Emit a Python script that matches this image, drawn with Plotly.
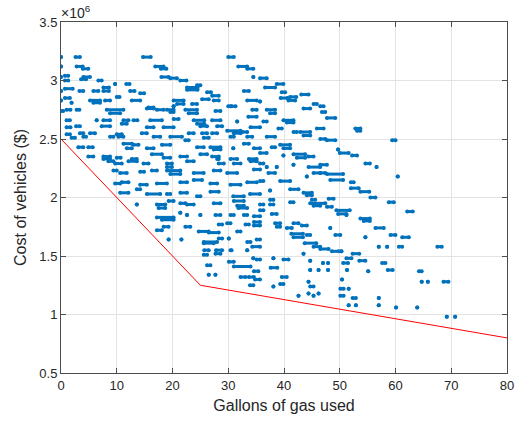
import plotly.graph_objects as go

# Feasible vehicle fleets: each record is a run of points at one cost level,
# from gallons_start to gallons_end (equal when it is a single point).
gallons_start = [
    0, 2.6, 14.7, 30, 0, 2.8, 3.9, 16.9, 17.9, 31.8, 33.4,
    0, 0.7, 0.7, 4, 3.6, 6.7, 18, 19.6, 21.4, 34.5,
    0, 0.7, 3.3, 5.8, 7.6, 7.6, 9.7, 11.7, 12.4, 14.2, 22.6, 22.6, 24.4, 26.2, 27.1, 32.8,
    0, 0.7, 1.9, 5.2, 5.8, 7.9, 10, 12.7, 15.7, 17.2, 20.2, 20.8, 23.5, 25.3, 27.4, 30.4, 33.4,
    0, 1, 2.8, 8.2, 8.8, 15.4, 19, 19.6, 20.2, 22.3, 22.9, 27.7, 30, 34.3,
    1, 6.4, 7.6, 11.2, 13, 16, 20.2, 23.8, 24.4, 27.1, 31.6, 33.6,
    1, 2.7, 7.3, 10.9, 15.4, 18.4, 25, 28, 29.8, 34,
    1, 3.4, 5.2, 10, 14.5, 19.6, 22.9, 25.3, 27.1, 31, 32.5,
    1.9, 4, 8.8, 10.3, 16.6, 22.3, 25.6, 30.4, 33.4,
    3.1, 4.9, 11.2, 11.8, 13, 15.4, 18.1, 24.4, 26.8, 27.4, 30.9, 32.8, 34.6,
    4.9, 7.6, 7.6, 10, 12.7, 16.3, 18.4, 21.4, 25, 27.1, 28, 30.4, 33.7,
    8.5, 9.7, 12.1, 14.8, 19, 19, 22.6, 28.3, 31, 34,
    9.4, 10.6, 14.2, 16.3, 19, 19.6, 23.8, 27.4, 29.8, 34.6,
    9.7, 10.9, 14.2, 17.2, 21.4, 23.8, 26.8, 30.4, 33.4,
    10.6, 13.6, 15.4, 19, 21.4, 24.4, 26.8, 30.9, 33.9,
    35.7, 36.6, 38.7, 39.6, 41.1, 40.8, 43.1, 39.4, 35.7, 43.5, 45.3, 46.5, 36.9, 37.5,
    46.8, 47.7, 39.9, 40.5, 36.3, 39, 41.7, 42.9, 43.5, 45.9, 46.5, 47.7, 36.9, 52.8,
    53.1, 59.4, 37.8, 39.3, 39.9, 35.7, 41.7, 42.3, 39.9, 44.4, 50, 52.2, 49.7, 35.7,
    36.9, 38.7, 41.7, 44.4, 46.5, 54.6, 56.6, 37.2, 45.3, 46.5, 47.7, 48.3, 44.1, 60.4,
    35.7, 39.3, 52, 52, 53.7, 41.1, 43.5, 44.1, 37.5, 45, 37.5, 55.5, 48,
    13.6, 17.2, 17.5, 19.3, 21.4, 22.6, 27.4, 31, 31.6, 31.8, 17.2, 18.1, 21.4, 22.6,
    25, 27.7, 30.4, 32.8, 34.6, 17.2, 18.4, 22.3, 24.7, 26.5, 28.3, 29.8, 31.6, 33.1,
    34.6, 34.6, 19.3, 21.6, 25.6, 25.6, 28.3, 30.1, 33.4, 35.1, 25.7, 27.8, 30.4, 33.4,
    34.3, 25.6, 27.7, 30.1, 31, 26.2, 34.5, 35.1, 26.5, 27.7, 32.2, 33.7, 34.6, 33.9, 34.8,
    35.7, 37.5, 41.1, 44.7, 45.3, 47.7, 49.4, 49.7, 51.2, 53.7, 54.3, 58.8, 62.1, 35.7,
    37.8, 38.4, 38.7, 40.5, 41.7, 43.2, 41.3, 41.7, 44.1, 48.3, 49.2, 43.7, 45.3, 46.5,
    48.6, 56.4, 59.1, 61.2, 54.6, 57, 58.5, 60.6, 67.5, 50.3, 51.2, 52.3, 53.5, 38.1,
    39.9, 43.5, 44.7, 47, 47.9, 50.6, 57.6, 37.6, 44.7, 46.2, 47.9, 51.3, 55.1, 58.6,
    64.2, 39.6, 44.4, 50.4, 51.6, 38.1, 39.3, 44.7, 50.1, 64.7, 65.8, 68.6, 42.6, 44.4,
    45.3, 46.2, 50.1, 52.3, 57, 51.6, 52.9, 57, 60.1, 63.9, 69.2, 70.7,
]
gallons_end = [
    0, 3.4, 16.1, 31, 0, 3.9, 4.9, 18.4, 18.9, 33.4, 34.5,
    0, 1.3, 1.3, 5.2, 4.5, 7.3, 19.3, 20.8, 22.5, 34.5,
    0, 2.1, 4, 6.7, 8.6, 8.6, 9.7, 12.3, 13.2, 14.9, 24.5, 24.5, 25, 26.9, 28.3, 33.7,
    0, 1.6, 1.9, 7, 7, 8.8, 10.5, 14.2, 16.6, 18.4, 22, 22, 24.4, 26.5, 28.3, 31.3, 35.1,
    0.4, 1.7, 3.3, 11.2, 10.6, 16.6, 20.2, 20.2, 20.2, 24.4, 24.4, 28.6, 30.6, 35.1,
    1.6, 6.4, 8.8, 12.1, 13.7, 18.1, 21.1, 25.7, 25.7, 28.6, 31.6, 35.1,
    1.7, 3.4, 8.8, 11.8, 16.6, 20.2, 26.2, 28.9, 32.2, 35.7,
    1.6, 4, 6.1, 10.9, 15.4, 21.7, 23.8, 26.2, 28, 32.2, 33.4,
    2.5, 4.5, 9.4, 11.2, 17.8, 22.9, 26.5, 31, 34.3,
    4, 5.7, 12.7, 12.7, 13.9, 16.6, 19.6, 25.6, 28.6, 28.6, 30.9, 33.7, 35.7,
    5.8, 8.8, 8.8, 10.7, 13.6, 18.1, 19.6, 22.6, 26.2, 28.3, 28.3, 31.6, 35.1,
    9.4, 10.9, 13.6, 15.7, 19.9, 19.9, 23.8, 29.2, 32.2, 35.1,
    10, 11.8, 14.9, 17.2, 21.4, 21.4, 25.6, 28.6, 31.6, 35.7,
    10.6, 12.1, 15.4, 19, 22.6, 25.3, 28, 32.2, 35.1,
    12.1, 14.2, 17.8, 19.6, 22.6, 25, 28.3, 32.8, 35.7,
    36.9, 38.4, 39.9, 40.2, 42.2, 42, 44.4, 40.6, 35.7, 44.7, 45.9, 47.1, 38.4, 38.4,
    47.4, 49.2, 41.7, 41.7, 36.9, 39.6, 42.3, 44.7, 44.7, 47.1, 47.4, 49.2, 38.4, 53.7,
    53.7, 60, 38.4, 41.1, 41.1, 36.9, 43.8, 43.8, 39.9, 45.3, 51.6, 53.1, 49.7, 36.3,
    36.9, 38.7, 41.7, 46.5, 47.7, 55.4, 56.6, 38.4, 46.5, 47.4, 50.6, 50.6, 44.1, 60.4,
    36.3, 41.1, 52.5, 53.4, 55.3, 42.6, 45, 45, 37.5, 45.6, 38.1, 56.4, 48.9,
    13.6, 18.7, 18.7, 20.2, 22.3, 23.8, 28.6, 32.8, 32.8, 33.4, 20.2, 20.2, 21.4, 22.6,
    25, 28.6, 31, 33.4, 35.7, 18.1, 19.3, 23.2, 26.5, 28.3, 28.9, 30.4, 32.2, 33.7,
    35.7, 35.7, 19.3, 21.6, 28, 27.4, 28.9, 30.1, 34, 35.7, 26.5, 28.9, 30.6, 33.4,
    35.7, 26.2, 28.6, 31, 34, 26.8, 34.5, 35.7, 26.5, 27.7, 33.1, 34.6, 35.4, 34.5, 35.7,
    36.3, 38.1, 41.7, 47.4, 46.5, 48.6, 51.8, 51.2, 51.2, 55.4, 55.4, 59.7, 63.1, 36.3,
    38.7, 39.3, 39.3, 41.4, 42.6, 44.1, 43.4, 43.4, 44.7, 48.3, 50.1, 45.8, 46.5, 48,
    49.8, 57.9, 60, 62.4, 54.6, 57, 58.5, 61.2, 68.3, 50.3, 52.1, 53.5, 54.6, 38.1,
    40.8, 43.5, 44.7, 47, 47.9, 51.5, 58.2, 38.8, 44.7, 46.2, 47.9, 51.3, 55.1, 59.5,
    64.7, 40.5, 44.4, 50.4, 51.6, 38.1, 39.9, 45.3, 50.7, 64.7, 65.8, 69.5, 42.6, 44.4,
    45.3, 46.2, 50.7, 52.9, 57, 51.6, 52.9, 57, 60.1, 63.9, 69.2, 70.7,
]
cost_millions = [
    3.2, 3.2, 3.2, 3.2, 3.12, 3.12, 3.1, 3.12, 3.1, 3.12, 3.1,
    3.03, 3.04, 3.0, 3.03, 3.01, 3.0, 3.03, 3.02, 3.0, 3.03,
    2.91, 2.93, 2.91, 2.91, 2.94, 2.91, 2.97, 2.97, 2.91, 2.89, 2.94, 2.92, 2.96, 2.9, 2.87, 2.91,
    2.83, 2.85, 2.81, 2.83, 2.81, 2.83, 2.86, 2.83, 2.77, 2.75, 2.83, 2.8, 2.8, 2.84, 2.83, 2.78, 2.83,
    2.74, 2.75, 2.75, 2.75, 2.72, 2.76, 2.75, 2.73, 2.78, 2.75, 2.72, 2.74, 2.78, 2.75,
    2.66, 2.66, 2.66, 2.66, 2.66, 2.66, 2.67, 2.66, 2.63, 2.66, 2.65, 2.69,
    2.6, 2.61, 2.61, 2.63, 2.6, 2.6, 2.61, 2.61, 2.57, 2.6,
    2.54, 2.55, 2.55, 2.54, 2.55, 2.52, 2.55, 2.55, 2.55, 2.55, 2.56,
    2.51, 2.52, 2.52, 2.52, 2.52, 2.49, 2.51, 2.52, 2.52,
    2.43, 2.43, 2.46, 2.42, 2.45, 2.42, 2.45, 2.43, 2.43, 2.41, 2.42, 2.46, 2.42,
    2.35, 2.35, 2.33, 2.34, 2.33, 2.37, 2.34, 2.35, 2.37, 2.35, 2.33, 2.33, 2.33,
    2.31, 2.29, 2.31, 2.29, 2.29, 2.26, 2.31, 2.29, 2.29, 2.31,
    2.23, 2.21, 2.22, 2.23, 2.23, 2.2, 2.21, 2.23, 2.21, 2.24,
    2.12, 2.13, 2.11, 2.12, 2.13, 2.15, 2.12, 2.11, 2.13,
    2.04, 2.07, 2.03, 2.03, 2.04, 2.01, 2.05, 2.01, 2.03,
    3.02, 2.94, 2.97, 2.9, 2.86, 2.83, 2.88, 2.85, 2.82, 2.76, 2.8, 2.78, 2.75, 2.72,
    2.73, 2.68, 2.66, 2.64, 2.65, 2.59, 2.56, 2.56, 2.53, 2.59, 2.5, 2.49, 2.52, 2.59,
    2.57, 2.49, 2.43, 2.45, 2.42, 2.38, 2.37, 2.34, 2.36, 2.35, 2.38, 2.36, 2.41, 2.29,
    2.26, 2.26, 2.28, 2.26, 2.28, 2.29, 2.26, 2.21, 2.21, 2.21, 2.2, 2.15, 2.18, 2.18,
    2.14, 2.14, 2.13, 2.08, 2.05, 2.07, 2.04, 2.02, 2.06, 1.98, 1.98, 2.0, 1.99,
    1.94, 1.94, 1.91, 1.97, 1.95, 1.94, 1.95, 1.97, 1.93, 1.91, 1.83, 1.81, 1.87, 1.85,
    1.85, 1.85, 1.85, 1.85, 1.84, 1.72, 1.75, 1.75, 1.71, 1.7, 1.77, 1.78, 1.71, 1.77,
    1.79, 1.76, 1.64, 1.64, 1.62, 1.61, 1.65, 1.65, 1.62, 1.64, 1.55, 1.55, 1.55, 1.55,
    1.58, 1.51, 1.52, 1.45, 1.41, 1.42, 1.48, 1.47, 1.34, 1.34, 1.32, 1.32, 1.37, 1.25, 1.3,
    1.94, 1.94, 1.96, 1.95, 1.93, 1.92, 1.89, 1.86, 1.85, 1.82, 1.8, 1.96, 1.88, 1.89,
    1.86, 1.78, 1.75, 1.74, 1.78, 1.76, 1.69, 1.66, 1.68, 1.74, 1.68, 1.61, 1.58, 1.56,
    1.54, 1.74, 1.68, 1.66, 1.66, 1.58, 1.58, 1.58, 1.58, 1.54, 1.48, 1.52, 1.46, 1.48,
    1.47, 1.52, 1.46, 1.44, 1.44, 1.44, 1.44, 1.4, 1.38, 1.38, 1.38, 1.38, 1.37, 1.38,
    1.37, 1.32, 1.28, 1.3, 1.22, 1.24, 1.26, 1.24, 1.22, 1.28, 1.28, 1.28, 1.16, 1.18,
    1.16, 1.18, 1.16, 1.14, 1.14, 1.08, 1.08, 1.08, 1.06, 1.06, 0.98, 0.98,
]

# Budget boundary (piecewise linear)
boundary_gallons = [0, 25, 80]
boundary_cost_millions = [2.5, 1.25, 0.8]

x_ticks = [0, 10, 20, 30, 40, 50, 60, 70, 80]
y_ticks_millions = [0.5, 1, 1.5, 2, 2.5, 3, 3.5]
y_tick_labels = ["0.5", "1", "1.5", "2", "2.5", "3", "3.5"]

BLUE = "#0072BD"
FONT = "Liberation Sans, Arial, sans-serif"

seg_x, seg_y = [], []
for x0, x1, c in zip(gallons_start, gallons_end, cost_millions):
    seg_x += [x0, x1, None]
    seg_y += [c * 1e6, c * 1e6, None]

fig = go.Figure()
fig.add_trace(go.Scatter(
    x=seg_x, y=seg_y, mode="lines+markers",
    line=dict(color=BLUE, width=3),
    marker=dict(color=BLUE, size=4, symbol="circle", line=dict(width=0)),
    hoverinfo="skip", showlegend=False,
))
fig.add_trace(go.Scatter(
    x=boundary_gallons, y=[c * 1e6 for c in boundary_cost_millions],
    mode="lines", line=dict(color="#FF0000", width=1),
    hoverinfo="skip", showlegend=False,
))

axis_common = dict(
    showline=True, linecolor="#4d4d4d", linewidth=1, mirror="ticks",
    ticks="inside", ticklen=5, tickcolor="#4d4d4d", tickwidth=1,
    showgrid=True, gridcolor="#e3e3e3", gridwidth=1, zeroline=False,
    automargin=False,
    tickfont=dict(family=FONT, size=13, color="#262626"),
)

fig.update_xaxes(
    range=[0, 80], tickvals=x_ticks,
    title=dict(text="Gallons of gas used", standoff=8,
               font=dict(family=FONT, size=16, color="#262626")),
    **axis_common,
)
fig.update_yaxes(
    range=[0.5e6, 3.5e6], tickvals=[v * 1e6 for v in y_ticks_millions], ticktext=y_tick_labels,
    title=dict(text="Cost of vehicles ($)", standoff=8,
               font=dict(family=FONT, size=16, color="#262626")),
    **axis_common,
)

fig.add_annotation(
    text="×10<sup>6</sup>", xref="paper", yref="paper", x=0, y=1,
    xanchor="left", yanchor="bottom", showarrow=False, xshift=-2, yshift=-1,
    font=dict(family=FONT, size=14, color="#262626"),
)

fig.update_layout(
    width=521, height=424,
    margin=dict(l=61, r=14, t=22, b=51),
    plot_bgcolor="white", paper_bgcolor="white",
    hovermode=False,
)

fig.write_html("out.html")
